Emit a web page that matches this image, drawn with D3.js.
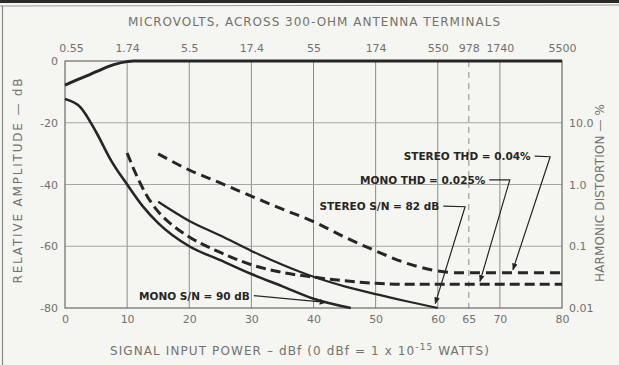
<!DOCTYPE html>
<html>
<head>
<meta charset="utf-8">
<script src="https://cdn.jsdelivr.net/npm/d3@7"></script>
<style>
  body { margin: 0; background: #f5f5f1; }
  svg { display: block; }
  text { font-family: "DejaVu Sans", sans-serif; }
</style>
</head>
<body>
<svg id="chart" width="619" height="365"></svg>
<script>
// --- data (x = signal input power in dBf, y = relative amplitude in dB) ---
const bottomTicks = [0, 10, 20, 30, 40, 50, 60, 65, 70, 80];
const topTicks = [0, 10, 20, 30, 40, 50, 60, 65, 70, 80];
const topLabels = ["0.55", "1.74", "5.5", "17.4", "55", "174", "550", "978", "1740", "5500"];
const leftTicks = [0, -20, -40, -60, -80];
const rightTicks = [10, 1, 0.1, 0.01];
const rightLabels = ["10.0", "1.0", "0.1", "0.01"];
const gridX = [10, 20, 30, 40, 50, 60, 70];
const gridY = [-20, -40, -60];

const monoOutput = [[0, -7.8], [2, -6.0], [4, -4.4], [6, -2.6], [8, -1.1], [10, -0.2], [11, 0], [80, 0]];
const monoNoise = [[0, -12.3], [2.5, -15], [5, -23], [7.5, -32.5], [10, -40], [12.5, -47], [15, -52.5],
  [20, -60], [25, -64.5], [30, -69], [35, -73], [40, -77], [46, -80]];
const stereoNoise = [[15, -45.6], [20, -51.8], [25, -56.5], [30, -61.5], [35, -66], [40, -69.9],
  [45, -73], [50, -75.5], [55, -77.8], [60, -80]];
const monoTHD = [[10, -29.8], [11.5, -37], [13, -43], [15, -48.8], [17.5, -53.5], [20, -57], [25, -62],
  [30, -66], [35, -68.5], [40, -70], [45, -71.2], [50, -72], [55, -72.3], [80, -72.3]];
const stereoTHD = [[15, -30.1], [20, -35.3], [25, -39.5], [30, -43.8], [35, -48], [40, -52], [45, -57],
  [50, -61.5], [55, -65.5], [60, -68], [63, -68.6], [80, -68.6]];

// callouts: text, text end point, then leader points (last one gets the arrow)
const notes = [
  { text: "STEREO THD = 0.04%", pts: [[75.6, -30.8], [78.1, -31.0], [72.1, -67.6]] },
  { text: "MONO THD = 0.025%", pts: [[68.3, -38.5], [71.6, -38.5], [66.8, -71.4]] },
  { text: "STEREO S/N = 82 dB", pts: [[60.9, -47.0], [64.4, -47.2], [59.6, -78.6]] },
  { text: "MONO S/N = 90 dB", pts: [[30.4, -76.0], [42.0, -78.2]] }
];

const svg = d3.select("#chart");
const x = d3.scaleLinear().domain([0, 80]).range([65, 562]);
const y = d3.scaleLinear().domain([-80, 0]).range([308, 61]);
const yR = d3.scaleLog().domain([0.01, 100]).range([308, 61]);

const grey = "#72726d";
const ink = "#262624";

// scan border
svg.append("line").attr("x1", 0).attr("x2", 619).attr("y1", 1.5).attr("y2", 1.5)
  .attr("stroke", "#2a2a28").attr("stroke-width", 3);
svg.append("line").attr("x1", 0).attr("x2", 619).attr("y1", 6).attr("y2", 5)
  .attr("stroke", "#9a9a95").attr("stroke-width", 1);
svg.append("line").attr("x1", 2.5).attr("x2", 2.5).attr("y1", 6).attr("y2", 365)
  .attr("stroke", "#8a8a85").attr("stroke-width", 1.2);

// grid
svg.append("g").selectAll("line").data(gridX).join("line")
  .attr("x1", d => x(d)).attr("x2", d => x(d)).attr("y1", y(0)).attr("y2", y(-80))
  .attr("stroke", "#8c8c88").attr("stroke-width", 1);
svg.append("g").selectAll("line").data(gridY).join("line")
  .attr("x1", x(0)).attr("x2", x(80)).attr("y1", d => y(d)).attr("y2", d => y(d))
  .attr("stroke", "#a6a6a2").attr("stroke-width", 1);
svg.append("line").attr("x1", x(65)).attr("x2", x(65)).attr("y1", y(0)).attr("y2", y(-80))
  .attr("stroke", "#8c8c88").attr("stroke-dasharray", "6,5");

// frame
svg.append("rect").attr("x", x(0)).attr("y", y(0)).attr("width", x(80) - x(0)).attr("height", y(-80) - y(0))
  .attr("fill", "none").attr("stroke", "#6a6a66").attr("stroke-width", 1.2);

// axes
const axisStyle = g => {
  g.select(".domain").remove();
  g.selectAll(".tick line").remove();
  g.selectAll("text").attr("fill", grey).attr("font-size", 11);
};
svg.append("g").attr("transform", `translate(0,${y(-80) + 4})`)
  .call(d3.axisBottom(x).tickValues(bottomTicks).tickSize(0).tickFormat(d => String(d)))
  .call(axisStyle);
svg.append("g").attr("transform", `translate(0,${y(0) - 6})`)
  .call(d3.axisTop(x).tickValues(topTicks).tickSize(0).tickFormat((d, i) => topLabels[i]))
  .call(axisStyle)
  .call(g => g.selectAll(".tick").filter(d => d === 0).select("text").attr("dx", 6));
svg.append("g").attr("transform", `translate(${x(0) - 4},0)`)
  .call(d3.axisLeft(y).tickValues(leftTicks).tickSize(0).tickFormat(d => String(d)))
  .call(axisStyle);
svg.append("g").attr("transform", `translate(${x(80) + 4},0)`)
  .call(d3.axisRight(yR).tickValues(rightTicks).tickSize(0).tickFormat((d, i) => rightLabels[i]))
  .call(axisStyle);

// axis titles
svg.append("text").attr("x", 314).attr("y", 26).attr("text-anchor", "middle")
  .attr("fill", grey).attr("font-size", 12).attr("textLength", 372).attr("lengthAdjust", "spacing")
  .text("MICROVOLTS, ACROSS 300-OHM ANTENNA TERMINALS");
const bt = svg.append("text").attr("x", 300).attr("y", 355).attr("text-anchor", "middle")
  .attr("fill", grey).attr("font-size", 12).attr("letter-spacing", 1.1);
bt.append("tspan").text("SIGNAL INPUT POWER \u2013 dBf (0 dBf = 1 x 10");
bt.append("tspan").attr("dy", -5).attr("font-size", 9).text("-15");
bt.append("tspan").attr("dy", 5).text(" WATTS)");
svg.append("text").attr("transform", "translate(22,181) rotate(-90)").attr("text-anchor", "middle")
  .attr("fill", grey).attr("font-size", 12).attr("textLength", 205).attr("lengthAdjust", "spacing")
  .text("RELATIVE AMPLITUDE \u2014 dB");
svg.append("text").attr("transform", "translate(604,193) rotate(-90)").attr("text-anchor", "middle")
  .attr("fill", grey).attr("font-size", 12).attr("textLength", 178).attr("lengthAdjust", "spacing")
  .text("HARMONIC DISTORTION \u2014 %");

// curves
const line = d3.line().x(d => x(d[0])).y(d => y(d[1])).curve(d3.curveMonotoneX);
const curves = [
  { data: monoOutput, w: 3, dash: null },
  { data: monoNoise, w: 2.6, dash: null },
  { data: stereoNoise, w: 2.2, dash: null },
  { data: monoTHD, w: 3, dash: "10,5" },
  { data: stereoTHD, w: 3, dash: "10,6" }
];
svg.append("g").selectAll("path").data(curves).join("path")
  .attr("d", d => line(d.data)).attr("fill", "none").attr("stroke", ink)
  .attr("stroke-width", d => d.w).attr("stroke-dasharray", d => d.dash);

// callouts
svg.append("defs").append("marker").attr("id", "arr").attr("viewBox", "0 0 10 10")
  .attr("refX", 9).attr("refY", 5).attr("markerWidth", 7).attr("markerHeight", 7)
  .attr("orient", "auto").attr("markerUnits", "userSpaceOnUse")
  .append("path").attr("d", "M0,1 L10,5 L0,9 Z").attr("fill", ink);
const leader = d3.line().x(d => x(d[0])).y(d => y(d[1]));
const ng = svg.append("g").selectAll("g").data(notes).join("g");
ng.append("text").attr("x", d => x(d.pts[0][0]) - 4).attr("y", d => y(d.pts[0][1]) + 4)
  .attr("text-anchor", "end").attr("fill", ink).attr("font-size", 10.5).attr("font-weight", 600)
  .text(d => d.text);
ng.append("path").attr("d", d => leader(d.pts)).attr("fill", "none").attr("stroke", ink)
  .attr("stroke-width", 1.2).attr("marker-end", "url(#arr)");
</script>
</body>
</html>
